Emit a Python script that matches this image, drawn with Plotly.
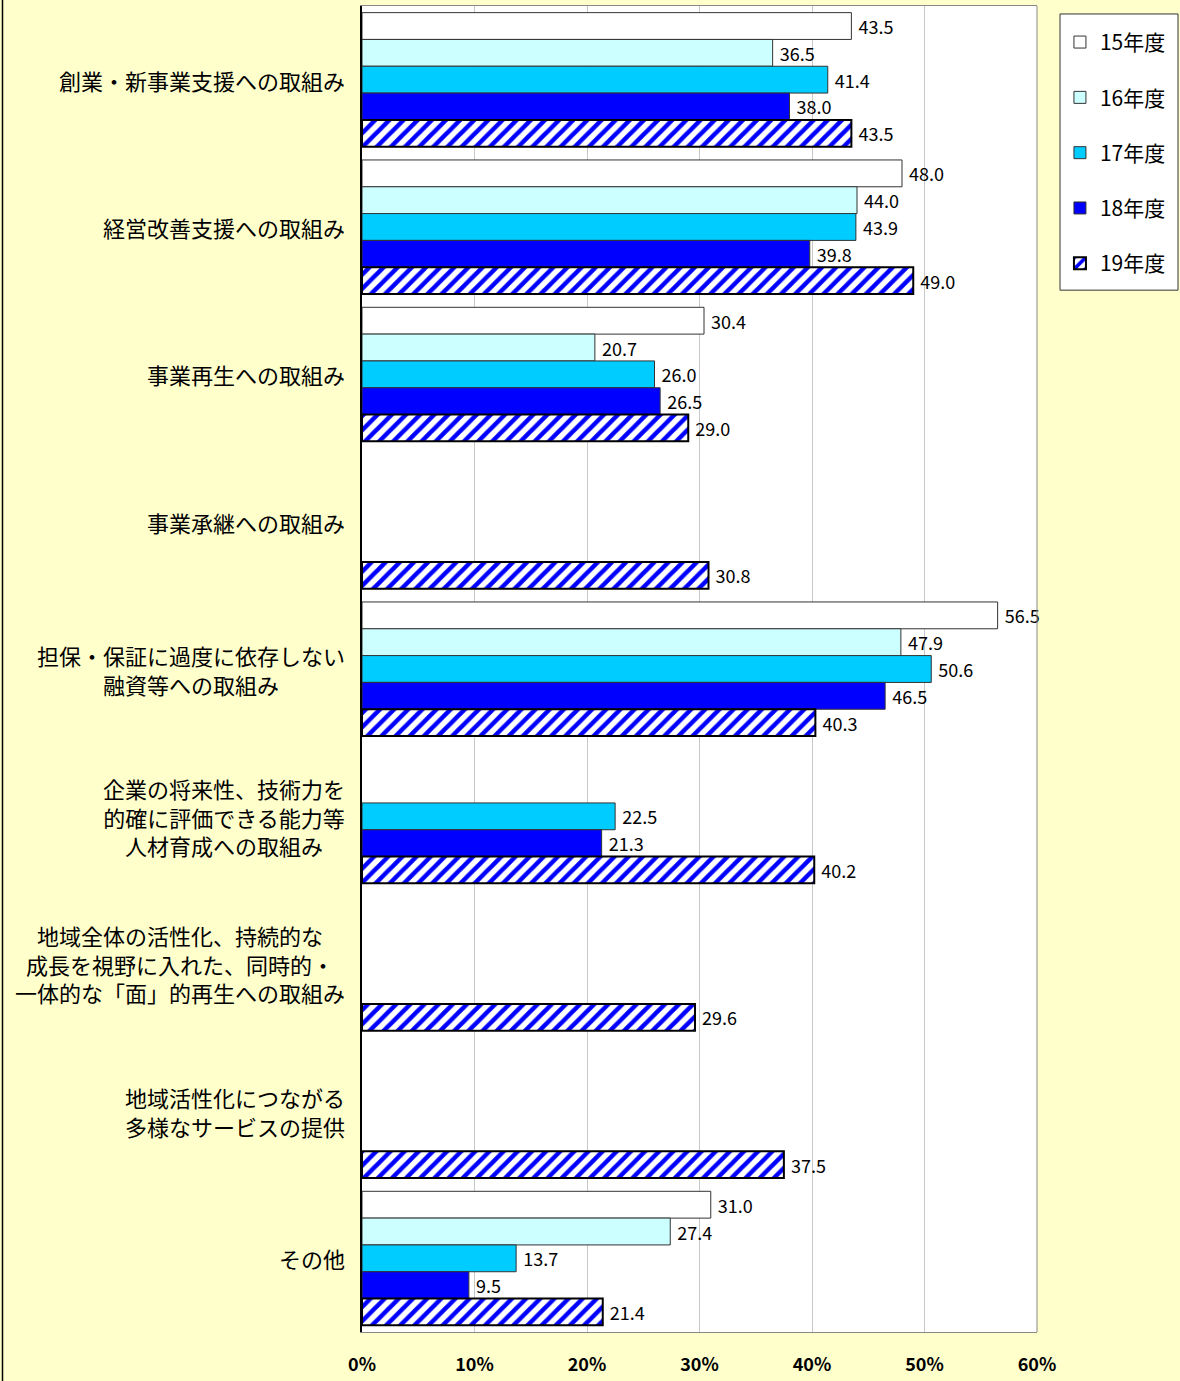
import plotly.graph_objects as go

categories = [
    "創業・新事業支援への取組み",
    "経営改善支援への取組み",
    "事業再生への取組み",
    "事業承継への取組み",
    "担保・保証に過度に依存しない<br>融資等への取組み",
    "企業の将来性、技術力を<br>的確に評価できる能力等<br>人材育成への取組み",
    "地域全体の活性化、持続的な<br>成長を視野に入れた、同時的・<br>一体的な「面」的再生への取組み",
    "地域活性化につながる<br>多様なサービスの提供",
    "その他",
]
cat_ids = [f"c{i}" for i in range(len(categories))]

series_names = ["15年度", "16年度", "17年度", "18年度", "19年度"]
v15 = [43.5, 48.0, 30.4, None, 56.5, None, None, None, 31.0]
v16 = [36.5, 44.0, 20.7, None, 47.9, None, None, None, 27.4]
v17 = [41.4, 43.9, 26.0, None, 50.6, 22.5, None, None, 13.7]
v18 = [38.0, 39.8, 26.5, None, 46.5, 21.3, None, None, 9.5]
v19 = [43.5, 49.0, 29.0, 30.8, 40.3, 40.2, 29.6, 37.5, 21.4]
series_values = [v15, v16, v17, v18, v19]

tick_vals = [0, 10, 20, 30, 40, 50, 60]
tick_text = ["0%", "10%", "20%", "30%", "40%", "50%", "60%"]

fills = ["#FFFFFF", "#CCFFFF", "#00CCFF", "#0000FF", "#FFFFFF"]

FONT = "Noto Sans CJK JP"

fig = go.Figure()
for i, (name, vals) in enumerate(zip(series_names, series_values)):
    marker = dict(color=fills[i], line=dict(color="#333333", width=1))
    if i == 4:
        marker = dict(
            color="#FFFFFF",
            line=dict(color="#000000", width=2),
            pattern=dict(shape="/", fgcolor="#0000FF", bgcolor="#FFFFFF",
                         size=10, solidity=0.45, fillmode="replace"),
        )
    fig.add_trace(go.Bar(
        y=cat_ids, x=vals, name=name, orientation="h",
        marker=marker,
        text=[(f" {v:.1f}" if v is not None else "") for v in vals],
        textposition="outside",
        constraintext="none",
        textfont=dict(family=FONT, size=18, color="#000000"),
        cliponaxis=False,
        legendgroup=name,
    ))

for cid, label in zip(cat_ids, categories):
    fig.add_annotation(
        x=0, xref="paper", y=cid, yref="y",
        text=label, showarrow=False, xanchor="right", align="center",
        xshift=-15, font=dict(family=FONT, size=22, color="#000000"),
    )

# outer frame line on the left
fig.add_shape(type="line", xref="paper", yref="paper",
              x0=-0.5326, x1=-0.5326, y0=-0.04, y1=1.01,
              line=dict(color="#000000", width=1.5))
# right edge of plot area
fig.add_shape(type="line", xref="paper", yref="paper",
              x0=1, x1=1, y0=0, y1=1,
              line=dict(color="#888888", width=1))
# legend frame
fig.add_shape(type="rect", xref="paper", yref="paper",
              x0=1.0341, x1=1.2089, y0=0.7857, y1=0.99398,
              fillcolor="#FFFFFF", line=dict(color="#333333", width=1),
              layer="above")

fig.update_layout(
    width=1180, height=1381,
    margin=dict(l=362, r=143, t=5, b=46),
    paper_bgcolor="#FFFFCC",
    plot_bgcolor="#FFFFFF",
    barmode="group",
    bargap=0.09,
    bargroupgap=0,
    showlegend=True,
    legend=dict(
        x=1.034, y=0.988, xanchor="left", yanchor="top",
        bgcolor="rgba(0,0,0,0)", borderwidth=0,
        font=dict(family=FONT, size=21, color="#000000"),
        traceorder="grouped", tracegroupgap=25,
        itemwidth=30,
    ),
    font=dict(family=FONT),
    xaxis=dict(
        range=[0, 60], tickvals=tick_vals, ticktext=tick_text,
        showgrid=True, gridcolor="#C8C8C8", gridwidth=1,
        showline=True, linecolor="#888888", linewidth=1, mirror=True,
        zeroline=False, ticks="",
        ticklabelstandoff=16,
        tickfont=dict(family=FONT, size=18, color="#000000", weight="bold"),
        fixedrange=True,
    ),
    yaxis=dict(
        autorange="reversed", showticklabels=False,
        showline=True, linecolor="#000000", linewidth=1.5,
        showgrid=False, ticks="", fixedrange=True,
    ),
)

fig.write_html("out.html")
